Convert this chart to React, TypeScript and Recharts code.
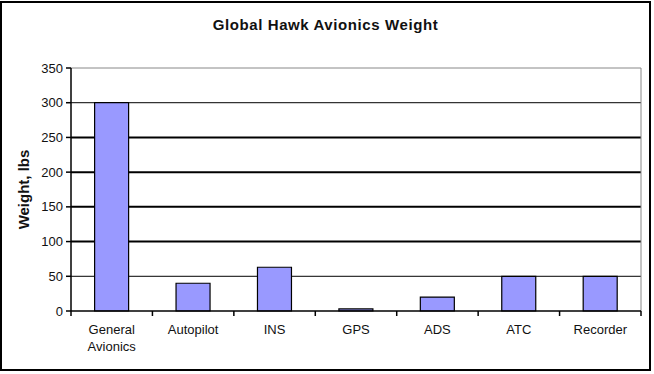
import React from 'react';
import { BarChart, Bar, XAxis, YAxis, CartesianGrid } from 'recharts';

const categories = ['General Avionics', 'Autopilot', 'INS', 'GPS', 'ADS', 'ATC', 'Recorder'];
const weights = [300, 40, 63, 3, 20, 50, 50];
const yTicks = [0, 50, 100, 150, 200, 250, 300, 350];
const thinGrid = [50, 300];
const thickGrid = [100, 150, 200, 250];
const topBorder = [350];

const data = categories.map((name, i) => ({ name, weight: weights[i] }));

const FONT = 'Arial, "Liberation Sans", Helvetica, sans-serif';

const XTick = (props: any) => {
  const { x, y, payload, index, width, visibleTicksCount } = props;
  const n = visibleTicksCount || categories.length;
  const band = (typeof width === 'number' && width > 0 ? width : 570) / n;
  const lines = String(payload.value).split(' ');
  const left = x - band / 2;
  const right = x + band / 2;
  return (
    <g>
      <line x1={left} y1={y} x2={left} y2={y + 5} stroke="#000" strokeWidth={1.5} />
      {index === n - 1 && (
        <line x1={right} y1={y} x2={right} y2={y + 5} stroke="#000" strokeWidth={1.5} />
      )}
      <text x={x} y={y + 23} textAnchor="middle" fontFamily={FONT} fontSize={13} fill="#111">
        {lines.map((l, i) => (
          <tspan key={i} x={x} dy={i === 0 ? 0 : 17}>
            {l}
          </tspan>
        ))}
      </text>
    </g>
  );
};

export default function App() {
  return (
    <div style={{ position: 'absolute', left: 0, top: 0, width: 654, height: 374, background: '#fff' }}>
      <div
        style={{
          position: 'absolute',
          left: 0,
          top: 1,
          width: 651,
          height: 370,
          border: '2px solid #000',
          boxSizing: 'border-box',
        }}
      />
      <div
        style={{
          position: 'absolute',
          left: 0,
          top: 17,
          width: 651,
          textAlign: 'center',
          fontFamily: FONT,
          fontWeight: 'bold',
          fontSize: 15,
          letterSpacing: 0.6,
          color: '#111',
          lineHeight: '16px',
        }}
      >
        Global Hawk Avionics Weight
      </div>
      <div style={{ position: 'absolute', left: 0, top: 0 }}>
        <BarChart
          width={654}
          height={374}
          data={data}
          margin={{ top: 68, right: 13, bottom: 0, left: 0 }}
          barCategoryGap="29%"
        >
          <CartesianGrid vertical={false} horizontalValues={thinGrid} stroke="#000" strokeWidth={1} />
          <CartesianGrid vertical={false} horizontalValues={thickGrid} stroke="#000" strokeWidth={2} />
          <CartesianGrid
            horizontalValues={topBorder}
            verticalCoordinatesGenerator={(p: any) => [p.offset.left + p.offset.width]}
            stroke="#888"
            strokeWidth={1}
          />
          <XAxis
            dataKey="name"
            height={63}
            interval={0}
            tickLine={false}
            tickSize={0}
            tickMargin={0}
            axisLine={{ stroke: '#000', strokeWidth: 1.5 }}
            tick={<XTick />}
          />
          <YAxis
            width={71}
            domain={[0, 350]}
            ticks={yTicks}
            interval={0}
            tickSize={5}
            tickMargin={3}
            axisLine={{ stroke: '#000', strokeWidth: 1.5 }}
            tickLine={{ stroke: '#000', strokeWidth: 1.5 }}
            tick={{ fill: '#111', fontSize: 13, fontFamily: FONT }}
            label={{
              value: 'Weight, lbs',
              angle: -90,
              position: 'insideLeft',
              offset: 24,
              style: { textAnchor: 'middle', fontWeight: 'bold', fontSize: 15, fontFamily: FONT, fill: '#111' },
            }}
          />
          <Bar dataKey="weight" fill="#9999FF" stroke="#000" strokeWidth={1.2} isAnimationActive={false} />
        </BarChart>
      </div>
    </div>
  );
}
